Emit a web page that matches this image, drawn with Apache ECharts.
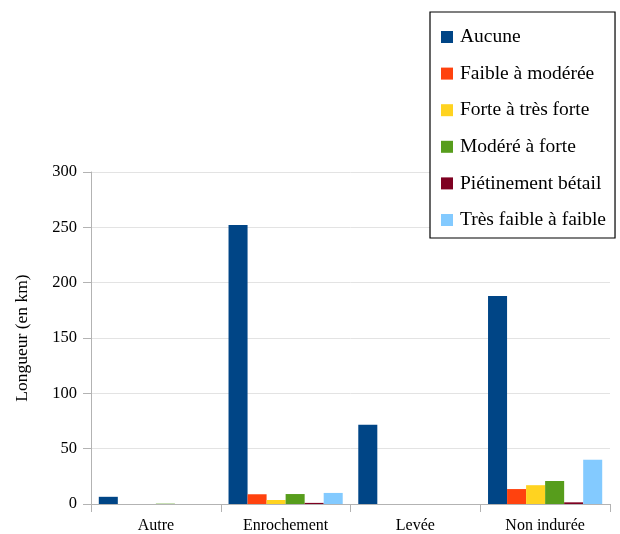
<!DOCTYPE html>
<html>
<head>
<meta charset="utf-8">
<script src="https://cdn.jsdelivr.net/npm/echarts@6/dist/echarts.min.js"></script>
<style>html,body{margin:0;padding:0;background:#fff;}#c{width:620px;height:534px;}</style>
</head>
<body>
<div id="c"></div>
<script>
var categories = ['Autre', 'Enrochement', 'Levée', 'Non indurée'];
var seriesNames = ['Aucune', 'Faible à modérée', 'Forte à très forte', 'Modéré à forte', 'Piétinement bétail', 'Très faible à faible'];
var aucune = [6.5, 252, 71.5, 188];
var faibleModeree = [0, 8.8, 0, 13.5];
var forteTresForte = [0, 3.6, 0, 17];
var modereForte = [0.3, 9, 0, 20.8];
var pietinement = [0, 1, 0, 1.5];
var tresFaible = [0, 10, 0, 40];
var yTicks = [0, 50, 100, 150, 200, 250, 300];

var colors = ['#004586', '#ff420e', '#ffd320', '#579d1c', '#7e0021', '#83caff'];
var dataSets = [aucune, faibleModeree, forteTresForte, modereForte, pietinement, tresFaible];
var font = '"Liberation Serif", "DejaVu Serif", serif';

var chart = echarts.init(document.getElementById('c'));
chart.setOption({
  animation: false,
  color: colors,
  textStyle: { fontFamily: font },
  grid: { left: 91, right: 10, top: 172, bottom: 30 },
  legend: {
    orient: 'vertical',
    left: 430, top: 12,
    padding: [15, 9, 8, 11],
    itemWidth: 12, itemHeight: 12,
    itemGap: 16.6,
    icon: 'rect',
    borderColor: '#000', borderWidth: 1.2,
    backgroundColor: '#fff',
    textStyle: { fontFamily: font, fontSize: 19.5, color: '#000', lineHeight: 20, padding: [0, 0, 0, 2] },
    data: seriesNames
  },
  xAxis: {
    type: 'category',
    data: categories,
    axisLine: { lineStyle: { color: '#b3b3b3' } },
    axisTick: { show: true, length: 8, lineStyle: { color: '#b3b3b3' } },
    axisLabel: { fontFamily: font, fontSize: 16, color: '#000', margin: 14 }
  },
  yAxis: {
    type: 'value',
    min: yTicks[0], max: yTicks[yTicks.length - 1], interval: 50,
    name: 'Longueur (en km)',
    nameLocation: 'middle',
    nameRotate: 90,
    nameGap: 60,
    nameTextStyle: { fontFamily: font, fontSize: 17.5, color: '#000' },
    axisLine: { show: true, lineStyle: { color: '#b3b3b3' } },
    axisTick: { show: true, length: 8, lineStyle: { color: '#b3b3b3' } },
    axisLabel: { fontFamily: font, fontSize: 16.5, color: '#000', margin: 14 },
    splitLine: { lineStyle: { color: '#e3e3e3' } }
  },
  series: seriesNames.map(function (n, i) {
    return {
      name: n, type: 'bar', data: dataSets[i],
      barGap: '0%', barCategoryGap: '12%'
    };
  })
});
</script>
</body>
</html>
